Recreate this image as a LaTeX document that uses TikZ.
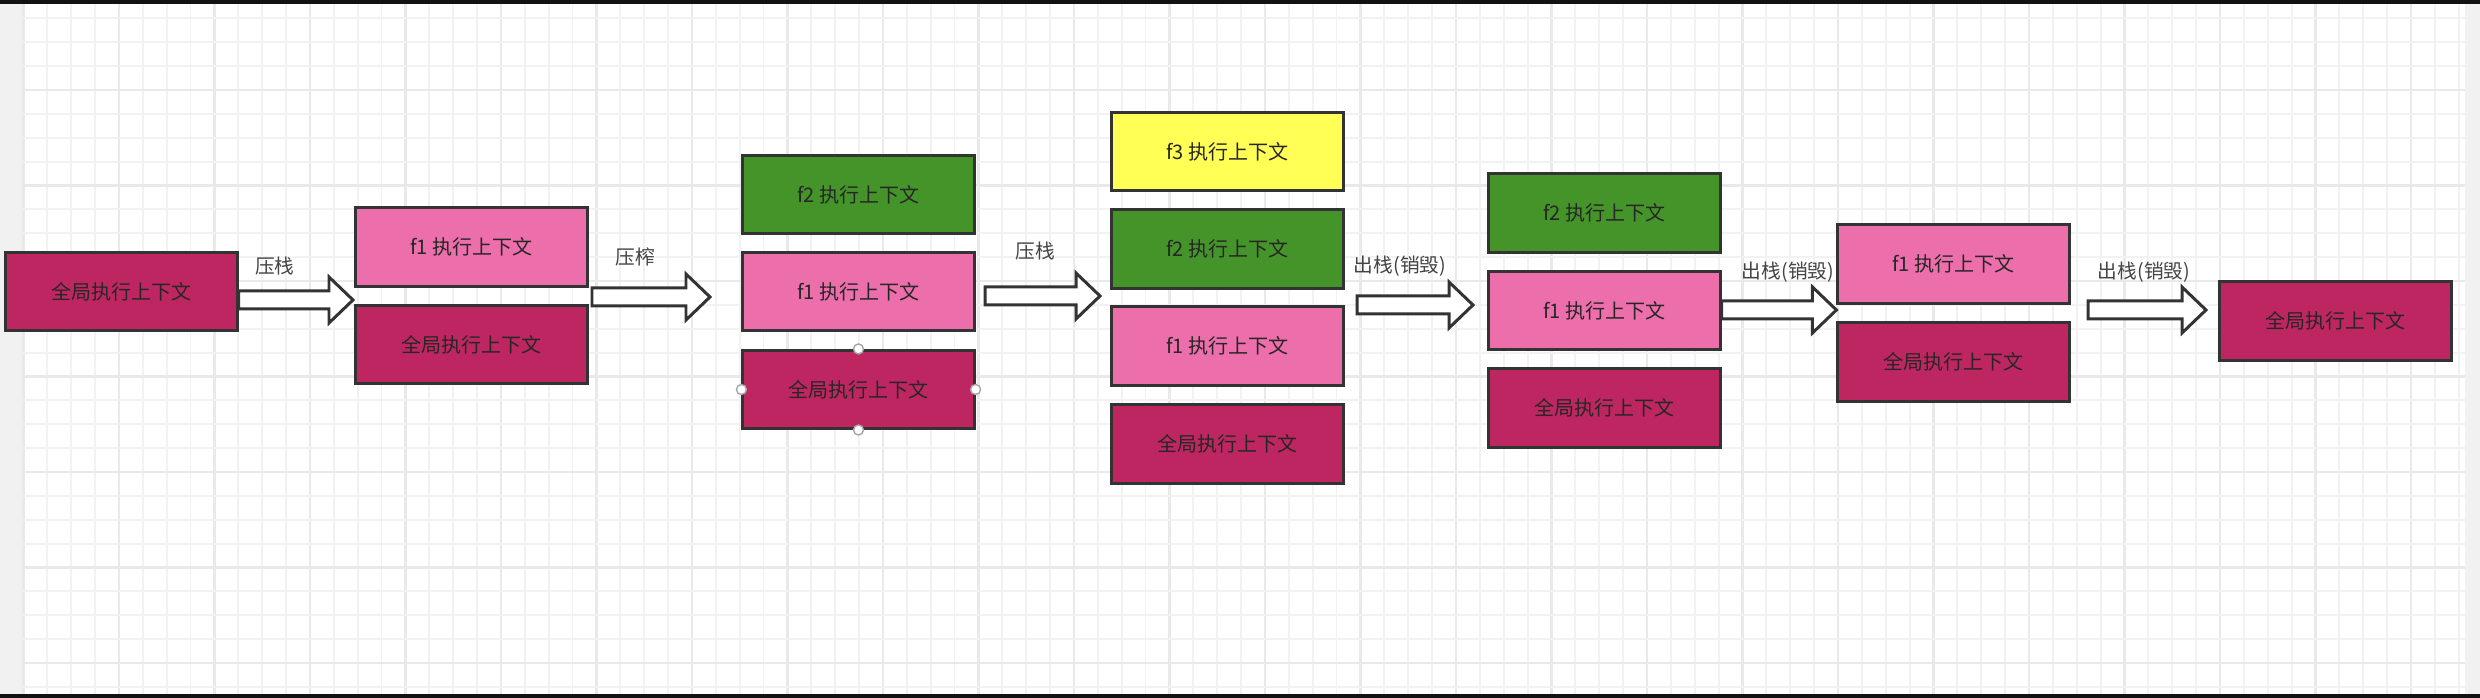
\documentclass[tikz,border=0pt]{standalone}
\usepackage{fontspec}
\setmainfont{Noto Sans CJK SC}
\usetikzlibrary{calc}
\definecolor{glob}{HTML}{BE2662}
\definecolor{fone}{HTML}{EC6EAB}
\definecolor{ftwo}{HTML}{45942A}
\definecolor{fthree}{HTML}{FFFF55}
\definecolor{edge}{HTML}{333333}
\definecolor{txt}{HTML}{262626}
\definecolor{lbl}{HTML}{444444}
\definecolor{minorg}{HTML}{F2F2F2}
\definecolor{majorg}{HTML}{E9E9E9}
\definecolor{strip}{HTML}{F1F1F1}
\tikzset{
  stackbox/.style={draw=edge, line width=0.85pt, minimum width=2.31cm, minimum height=0.78cm,
    inner sep=0pt, text=txt, font=\fontsize{5.7pt}{6.8pt}\selectfont},
  gbox/.style={stackbox, fill=glob},
  onebox/.style={stackbox, fill=fone},
  twobox/.style={stackbox, fill=ftwo},
  threebox/.style={stackbox, fill=fthree},
  steplabel/.style={text=lbl, inner sep=0pt, font=\fontsize{5.6pt}{6.8pt}\selectfont},
  barrow/.style={draw=edge, fill=white, line width=0.85pt, line join=miter},
  minorline/.style={draw=minorg, line width=0.55pt},
  majorline/.style={draw=majorg, line width=0.7pt},
  handle/.style={draw=gray!70, fill=white, line width=0.4pt}
}
% block arrow from named coordinate #1 to named coordinate #2 (horizontal)
\newcommand{\blockarr}[2]{%
  \draw[barrow] ($(#1)+(0,-9)$) -- ($(#2)+(-24,-9)$) -- ($(#2)+(-24,-23)$) -- (#2)
    -- ($(#2)+(-24,23)$) -- ($(#2)+(-24,9)$) -- ($(#1)+(0,9)$) -- cycle;}
\begin{document}
\begin{tikzpicture}[x=0.01cm, y=-0.01cm]
\useasboundingbox (0,0) rectangle (2480,698);
% background
\fill[white] (0,0) rectangle (2480,698);
\fill[strip] (0,0) rectangle (23,698);
\fill[strip] (2465,0) rectangle (2480,698);
% grid
\foreach \i in {0,...,102} {
  \pgfmathtruncatemacro{\m}{mod(\i,4)}
  \ifnum\m=0
    \draw[majorline] ({23.4+23.875*\i},4) -- ({23.4+23.875*\i},694);
  \else
    \draw[minorline] ({23.4+23.875*\i},4) -- ({23.4+23.875*\i},694);
  \fi
}
\foreach \k in {1,...,29} {
  \pgfmathtruncatemacro{\m}{mod(\k,4)}
  \ifnum\m=0
    \draw[majorline] (23,{-5.5+23.875*\k}) -- (2465,{-5.5+23.875*\k});
  \else
    \draw[minorline] (23,{-5.5+23.875*\k}) -- (2465,{-5.5+23.875*\k});
  \fi
}
\fill[black!93] (0,0) rectangle (2480,4);
\fill[black!93] (0,694) rectangle (2480,698);

% column 1
\node[gbox] (c1g) at (121.5,291.5) {全局执行上下文};
% column 2
\node[onebox] (c2a) at (471.5,247) {f1 执行上下文};
\node[gbox] (c2g) at (471.5,344.5) {全局执行上下文};
% column 3
\node[twobox] (c3b) at (858.5,194.5) {f2 执行上下文};
\node[onebox] (c3a) at (858.5,291.5) {f1 执行上下文};
\node[gbox] (c3g) at (858.5,389.5) {全局执行上下文};
% column 4
\node[threebox] (c4c) at (1227.5,151.5) {f3 执行上下文};
\node[twobox] (c4b) at (1227.5,249) {f2 执行上下文};
\node[onebox] (c4a) at (1227.5,346) {f1 执行上下文};
\node[gbox] (c4g) at (1227.5,444) {全局执行上下文};
% column 5
\node[twobox] (c5b) at (1604.5,213) {f2 执行上下文};
\node[onebox] (c5a) at (1604.5,310.5) {f1 执行上下文};
\node[gbox] (c5g) at (1604.5,408) {全局执行上下文};
% column 6
\node[onebox] (c6a) at (1953.5,264) {f1 执行上下文};
\node[gbox] (c6g) at (1953.5,362) {全局执行上下文};
% column 7
\node[gbox] (c7g) at (2335.5,321) {全局执行上下文};

% selection handles on column 3 global box
\foreach \a in {north,south,east,west}
  \draw[handle] (c3g.\a) circle (5);

% arrows
\coordinate (a1s) at (c1g.east |- 0,300);
\coordinate (a1e) at (353,300);
\coordinate (a2s) at (592,297);
\coordinate (a2e) at (710,297);
\coordinate (a3s) at (985,296);
\coordinate (a3e) at (1100,296);
\coordinate (a4s) at (1357,305);
\coordinate (a4e) at (1473,305);
\coordinate (a5s) at (c5a.east |- 0,310);
\coordinate (a5e) at (c6a.west |- 0,310);
\coordinate (a6s) at (2088,310);
\coordinate (a6e) at (2206,310);
\blockarr{a1s}{a1e}
\blockarr{a2s}{a2e}
\blockarr{a3s}{a3e}
\blockarr{a4s}{a4e}
\blockarr{a5s}{a5e}
\blockarr{a6s}{a6e}

% labels
\node[steplabel] (l1) at (275,266) {压栈};
\node[steplabel] (l2) at (635,257) {压榨};
\node[steplabel] (l3) at (1035,251) {压栈};
\node[steplabel] (l4) at (1400,266) {出栈(销毁)};
\node[steplabel] (l5) at (1788,272) {出栈(销毁)};
\node[steplabel] (l6) at (2144,272) {出栈(销毁)};
\end{tikzpicture}
\end{document}
